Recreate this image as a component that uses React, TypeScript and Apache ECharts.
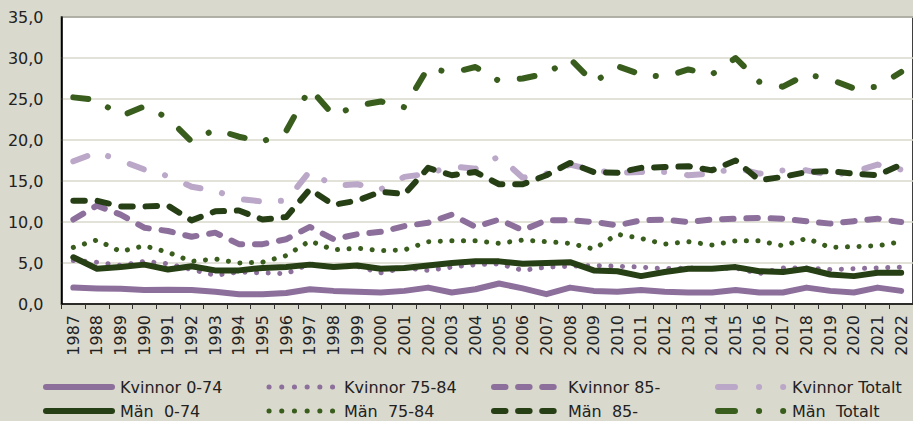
import React, { useEffect, useRef } from "react";
import * as echarts from "echarts";

const years = ["1987","1988","1989","1990","1991","1992","1993","1994","1995","1996","1997","1998","1999","2000","2001","2002","2003","2004","2005","2006","2007","2008","2009","2010","2011","2012","2013","2014","2015","2016","2017","2018","2019","2020","2021","2022"];

const yTicks = [0, 5, 10, 15, 20, 25, 30, 35];

const kvinnor074 = [2.0, 1.9, 1.85, 1.7, 1.75, 1.7, 1.5, 1.2, 1.2, 1.35, 1.8, 1.6, 1.5, 1.4, 1.6, 2.0, 1.4, 1.8, 2.5, 1.9, 1.2, 2.0, 1.6, 1.5, 1.7, 1.5, 1.4, 1.4, 1.7, 1.4, 1.4, 2.0, 1.6, 1.4, 2.0, 1.6];
const kvinnor7584 = [5.3, 5.1, 4.7, 5.2, 4.9, 4.2, 3.5, 3.9, 3.8, 3.7, 4.9, 4.5, 4.6, 3.8, 4.4, 4.1, 4.5, 4.8, 4.9, 4.1, 4.5, 4.6, 4.7, 4.6, 4.5, 4.3, 4.4, 4.3, 4.4, 3.7, 4.4, 4.4, 4.2, 4.3, 4.4, 4.5];
const kvinnor85 = [10.3, 12.0, 10.9, 9.3, 8.9, 8.2, 8.7, 7.3, 7.3, 7.9, 9.4, 7.9, 8.5, 8.8, 9.5, 9.9, 10.9, 9.4, 10.3, 9.0, 10.2, 10.2, 10.0, 9.6, 10.2, 10.3, 10.0, 10.3, 10.4, 10.5, 10.4, 10.1, 9.8, 10.1, 10.4, 10.0];
const kvinnorTotalt = [17.4, 18.5, 17.5, 16.4, 15.6, 14.3, 13.8, 12.8, 12.5, 12.6, 16.2, 14.4, 14.6, 14.0, 15.5, 15.9, 16.8, 16.5, 18.0, 15.4, 15.9, 17.0, 16.3, 16.0, 16.1, 16.1, 15.7, 15.9, 16.6, 15.9, 16.3, 16.3, 15.7, 16.1, 17.0, 16.4];
const man074 = [5.7, 4.3, 4.5, 4.8, 4.2, 4.6, 4.1, 4.1, 4.4, 4.5, 4.8, 4.5, 4.7, 4.3, 4.4, 4.7, 5.0, 5.2, 5.2, 4.9, 5.0, 5.1, 4.1, 4.0, 3.4, 3.9, 4.3, 4.3, 4.5, 4.0, 3.9, 4.3, 3.6, 3.4, 3.8, 3.8];
const man7584 = [6.9, 7.8, 6.4, 7.1, 6.3, 5.2, 5.5, 5.0, 5.1, 5.9, 7.7, 6.6, 6.8, 6.5, 6.6, 7.6, 7.7, 7.7, 7.4, 7.8, 7.6, 7.4, 6.7, 8.5, 8.0, 7.3, 7.6, 7.2, 7.7, 7.7, 7.1, 8.0, 6.9, 7.0, 7.1, 7.6];
const man85 = [12.6, 12.6, 11.9, 11.9, 12.0, 10.2, 11.3, 11.4, 10.3, 10.6, 14.0, 12.1, 12.6, 13.7, 13.4, 16.6, 15.7, 16.1, 14.6, 14.6, 15.7, 17.2, 16.1, 16.0, 16.6, 16.7, 16.8, 16.3, 17.5, 15.1, 15.5, 16.1, 16.2, 15.9, 15.7, 17.0];
const manTotalt = [25.2, 24.9, 22.9, 24.1, 22.7, 19.8, 21.3, 20.4, 19.8, 21.1, 26.3, 23.0, 24.2, 24.7, 24.0, 28.8, 28.2, 28.9, 27.2, 27.5, 28.1, 29.9, 27.0, 29.0, 28.0, 27.7, 28.6, 28.0, 30.0, 27.1, 26.5, 28.0, 27.4, 26.3, 26.5, 28.3];

const PURPLE = "#8d6f9c";
const LILAC = "#bba7c8";
const DKGREEN = "#273f15";
const GREEN = "#395d1d";

const SOLID: any = "solid";
const DOT = [0.1, 11.5];
const DASH = [11.5, 12.8];
const DASHDOT = [15, 22, 0.1, 23];

// legend dash styles (icon only)
const LEG_DOT = [0.1, 12.6];
const LEG_DASH = [11.5, 12.6];
const LEG_DASHDOT = [17, 24, 0.1, 24, 0.1, 100];

type Item = { name: string; data: number[]; color: string; type: any; width: number; leg: any };

const items: Item[] = [
  { name: "Kvinnor 0-74", data: kvinnor074, color: PURPLE, type: SOLID, width: 6, leg: null },
  { name: "Kvinnor 75-84", data: kvinnor7584, color: PURPLE, type: DOT, width: 5, leg: LEG_DOT },
  { name: "Kvinnor 85-", data: kvinnor85, color: PURPLE, type: DASH, width: 6, leg: LEG_DASH },
  { name: "Kvinnor Totalt", data: kvinnorTotalt, color: LILAC, type: DASHDOT, width: 6, leg: LEG_DASHDOT },
  { name: "Män  0-74", data: man074, color: DKGREEN, type: SOLID, width: 6, leg: null },
  { name: "Män  75-84", data: man7584, color: GREEN, type: DOT, width: 5, leg: LEG_DOT },
  { name: "Män  85-", data: man85, color: DKGREEN, type: DASH, width: 6, leg: LEG_DASH },
  { name: "Män  Totalt", data: manTotalt, color: GREEN, type: DASHDOT, width: 6, leg: LEG_DASHDOT },
];

const FONT = "DejaVu Sans";

export default function App() {
  const ref = useRef<HTMLDivElement>(null);
  useEffect(() => {
    const chart = echarts.init(ref.current!, null, { renderer: "svg" });
    const series = items.map((it) => ({
      name: it.name,
      type: "line",
      data: it.data,
      symbol: "none",
      color: it.color,
      lineStyle: { color: it.color, width: it.width, type: it.type, cap: "round", join: "round" },
    }));

    const colX = [43, 267, 491, 715];
    const rowY = [387, 411];
    const graphics: any[] = [];
    items.forEach((it, i) => {
      const col = i % 4;
      const row = Math.floor(i / 4);
      const x0 = colX[col];
      const y = rowY[row];
      const half = it.width / 2;
      const style: any = { stroke: it.color, lineWidth: it.width, lineCap: "round", fill: null };
      if (it.leg) style.lineDash = it.leg;
      let x1 = x0 + half;
      let x2 = x0 + 72 - half;
      if (it.type === DOT) { x1 = x0 + 2; x2 = x0 + 66; }
      if (it.type === DASHDOT) { x1 = x0 + 3; x2 = x0 + 69; }
      graphics.push({
        type: "line",
        shape: { x1, y1: y, x2, y2: y },
        style,
        silent: true,
      });
      graphics.push({
        type: "text",
        x: x0 + 77,
        y,
        style: {
          text: it.name,
          fontFamily: FONT,
          fontSize: 16,
          fill: "#222",
          verticalAlign: "middle",
          align: "left",
        },
        silent: true,
      });
    });

    chart.setOption({
      animation: false,
      backgroundColor: "#dad9cd",
      textStyle: { fontFamily: FONT },
      grid: {
        left: 61.5,
        top: 17,
        right: -6,
        bottom: 117,
        show: true,
        backgroundColor: "#ffffff",
        borderColor: "#000",
        borderWidth: 1.5,
      },
      xAxis: {
        type: "category",
        data: years,
        boundaryGap: true,
        axisLine: { lineStyle: { color: "#000", width: 1.5 } },
        axisTick: { show: true, interval: 0, length: 5, lineStyle: { color: "#333" } },
        axisLabel: { interval: 0, rotate: 90, fontSize: 16, color: "#222", margin: 11, fontFamily: FONT },
      },
      yAxis: {
        type: "value",
        min: yTicks[0],
        max: yTicks[yTicks.length - 1],
        interval: 5,
        axisLine: { show: true, lineStyle: { color: "#000", width: 1.5 } },
        axisTick: { show: false },
        splitLine: { lineStyle: { color: "#d9d8cc", width: 1.5 } },
        axisLabel: {
          fontSize: 16,
          color: "#222",
          margin: 18,
          fontFamily: FONT,
          formatter: (v: number) => v.toFixed(1).replace(".", ","),
        },
      },
      graphic: graphics,
      series,
    });
    return () => chart.dispose();
  }, []);
  return (
    <div
      ref={ref}
      style={{ position: "fixed", left: 0, top: 0, width: 913, height: 421 }}
    />
  );
}
